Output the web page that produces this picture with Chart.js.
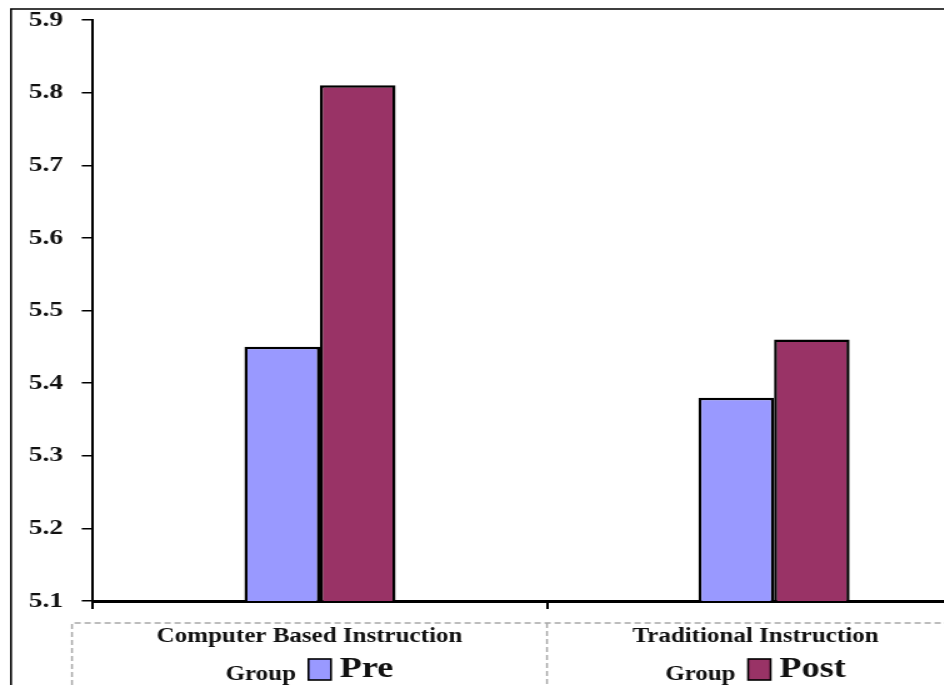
<!DOCTYPE html>
<html>
<head>
<meta charset="utf-8">
<title>Pre / Post scores by instruction group</title>
<script src="https://cdn.jsdelivr.net/npm/chart.js@4/dist/chart.umd.min.js"></script>
<style>
  html, body { margin: 0; padding: 0; background: #fff; }
  #wrap { width: 944px; height: 685px; overflow: hidden; position: relative; background: #fff; }
  /* the figure is drawn narrow and widened horizontally */
  #c { transform: scaleX(1.25); transform-origin: 0 0; display: block; }
</style>
</head>
<body>
<div id="wrap"><canvas id="c" width="810" height="685"></canvas></div>
<script>
// Group labels: first line, second line
const categories = [
  ["Computer Based Instruction", "Group"],
  ["Traditional Instruction", "Group"]
];
const seriesNames = ["Pre", "Post"];
const preScores = [5.45, 5.38];
const postScores = [5.81, 5.46];
const yTicks = [5.1, 5.2, 5.3, 5.4, 5.5, 5.6, 5.7, 5.8, 5.9];

const SERIF = "'Liberation Serif', 'Times New Roman', serif";
const PRE_COLOR = "#9999FF";
const POST_COLOR = "#993366";

// Dashed label table under the x axis, with each group's legend entry on its second line
const labelTable = {
  id: "labelTable",
  afterDraw(chart) {
    const ctx = chart.ctx;
    const x = chart.scales.x;
    const H = chart.height, W = chart.width;
    const top = x.top + 22;
    const left = x.left - 16.8;
    const divider = (x.getPixelForValue(0) + x.getPixelForValue(1)) / 2;
    const right = x.right - 29.6;

    ctx.save();
    ctx.strokeStyle = "#a8a8a8";
    ctx.lineWidth = 1.5;
    ctx.setLineDash([5, 3]);
    ctx.beginPath();
    ctx.moveTo(left, H); ctx.lineTo(left, top); ctx.lineTo(W, top);
    ctx.moveTo(divider, top); ctx.lineTo(divider, H);
    ctx.stroke();
    ctx.setLineDash([]);

    const cells = [[left, divider], [divider, right]];
    const datasets = chart.data.datasets;
    cells.forEach((cell, i) => {
      const cx = (cell[0] + cell[1]) / 2;
      const lines = chart.data.labels[i];
      ctx.fillStyle = "#111";
      ctx.textBaseline = "alphabetic";
      ctx.textAlign = "center";
      ctx.font = "bold 20px " + SERIF;
      ctx.fillText(lines[0], cx, top + 19);

      // second line: "Group" + legend swatch + series name
      const ds = datasets[i];
      const wGroup = ctx.measureText(lines[1]).width;
      ctx.font = "bold 29px " + SERIF;
      const wName = ctx.measureText(ds.label).width;
      const gap1 = 10, box = 18, gap2 = 7;
      const total = wGroup + gap1 + box + gap2 + wName;
      let px = cx - total / 2;
      ctx.textAlign = "left";
      ctx.font = "bold 20px " + SERIF;
      ctx.fillText(lines[1], px, top + 57);
      px += wGroup + gap1;
      ctx.fillStyle = ds.backgroundColor;
      ctx.fillRect(px, top + 36, box, 21);
      ctx.strokeStyle = "#000";
      ctx.lineWidth = 1.6;
      ctx.strokeRect(px, top + 36, box, 21);
      px += box + gap2;
      ctx.fillStyle = "#111";
      ctx.font = "bold 29px " + SERIF;
      ctx.fillText(ds.label, px, top + 54);
    });

    // outer frame
    ctx.strokeStyle = "#000";
    ctx.lineWidth = 1.6;
    ctx.beginPath();
    ctx.moveTo(8.8, H); ctx.lineTo(8.8, 9); ctx.lineTo(W, 9);
    ctx.stroke();
    ctx.restore();
  }
};

new Chart(document.getElementById("c"), {
  type: "bar",
  data: {
    labels: categories,
    datasets: [
      { label: seriesNames[0], data: preScores, backgroundColor: PRE_COLOR,
        borderColor: "#000", borderWidth: 2.5, borderSkipped: "start" },
      { label: seriesNames[1], data: postScores, backgroundColor: POST_COLOR,
        borderColor: "#000", borderWidth: 2.5, borderSkipped: "start" }
    ]
  },
  options: {
    responsive: false,
    animation: false,
    devicePixelRatio: 1,
    layout: { padding: { top: 20, left: 0, right: 9.2, bottom: 0 } },
    categoryPercentage: 0.333,
    barPercentage: 1.0,
    plugins: { legend: { display: false }, tooltip: { enabled: false } },
    scales: {
      x: {
        offset: true,
        ticks: { display: false },
        grid: { offset: true, drawOnChartArea: false, drawTicks: true, tickLength: 8,
                color: "#000", lineWidth: 2 },
        border: { display: true, color: "#000", width: 3 },
        afterFit(scale) { scale.height = 84; }
      },
      y: {
        min: yTicks[0],
        max: yTicks[yTicks.length - 1],
        afterBuildTicks(scale) { scale.ticks = yTicks.map(v => ({ value: v })); },
        ticks: {
          callback: v => Number(v).toFixed(1),
          color: "#111",
          padding: 15,
          font: { family: SERIF, size: 22, weight: "bold" }
        },
        grid: { drawOnChartArea: false, drawTicks: true, tickLength: 9, color: "#000", lineWidth: 1.5 },
        border: { display: true, color: "#000", width: 2 },
        afterFit(scale) {
          scale.width = 74.4;
          scale.paddingTop = 0;
          scale.paddingBottom = 0;
        }
      }
    }
  },
  plugins: [labelTable]
});
</script>
</body>
</html>
